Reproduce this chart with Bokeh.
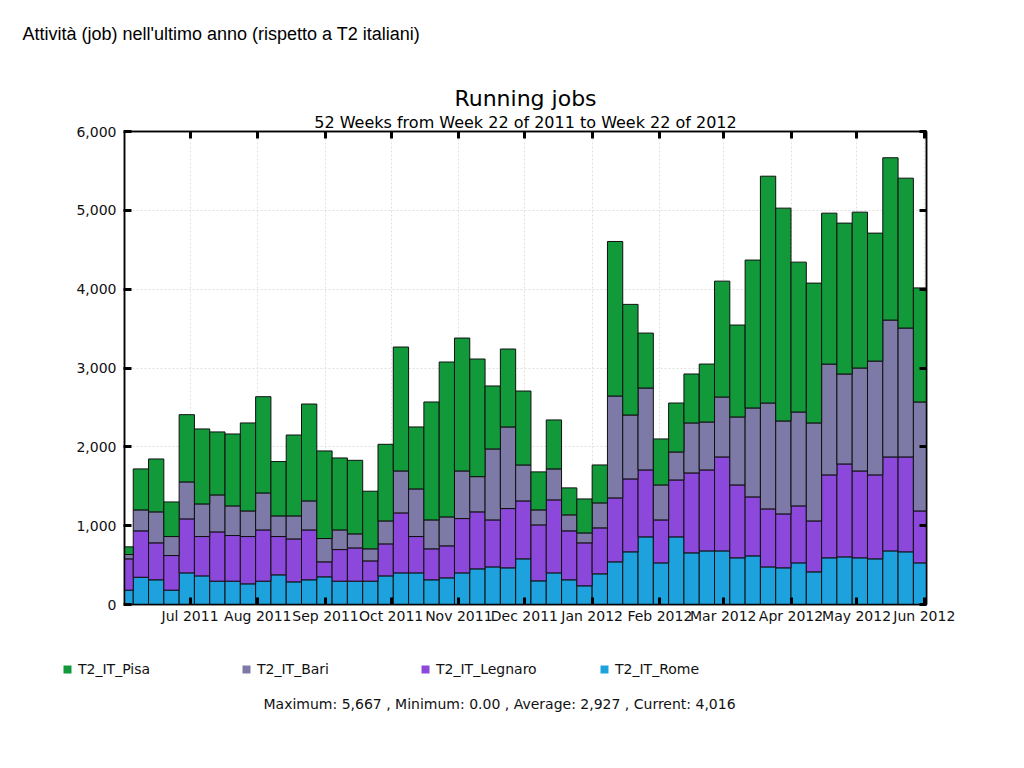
import pandas as pd
from bokeh.plotting import figure
from bokeh.layouts import column
from bokeh.models import (Range1d, FixedTicker, DatetimeTickFormatter, NumeralTickFormatter,
                          LinearAxis, DatetimeAxis, Label, Legend, LegendItem, Title,
                          ColumnDataSource, CustomJSTickFormatter)
from bokeh.embed import file_html
from bokeh.resources import INLINE

# ---------------- data ----------------
page_title = "Attività (job) nell'ultimo anno (rispetto a T2 italiani)"
chart_title = "Running jobs"
chart_subtitle = "52 Weeks from Week 22 of 2011 to Week 22 of 2012"
footer_text = "Maximum: 5,667 , Minimum: 0.00 , Average: 2,927 , Current: 4,016"

first_week_start = "2011-05-29"   # weekly bins (Sunday starts)
n_weeks = 53
x_start = "2011-06-01"
x_end = "2012-06-02"

sites = ["T2_IT_Rome", "T2_IT_Legnaro", "T2_IT_Bari", "T2_IT_Pisa"]
legend_order = ["T2_IT_Pisa", "T2_IT_Bari", "T2_IT_Legnaro", "T2_IT_Rome"]

rome = [182, 346, 313, 182, 401, 363, 296, 296, 262, 296, 376, 287, 313, 351, 296, 296, 296,
        363, 401, 401, 313, 338, 401, 452, 477, 465, 579, 300, 401, 313, 237, 389, 541, 668,
        858, 528, 858, 655, 680, 680, 592, 617, 477, 465, 528, 414, 592, 604, 592, 579, 680,
        668, 528]
legnaro = [397, 588, 469, 439, 685, 499, 625, 579, 600, 650, 486, 545, 633, 190, 401, 422, 257,
           406, 761, 461, 393, 406, 689, 723, 596, 752, 735, 710, 926, 621, 545, 583, 811, 925,
           849, 545, 722, 1014, 1027, 1192, 925, 748, 736, 684, 723, 646, 1052, 1179, 1102, 1065,
           1192, 1204, 659]
bari = [55, 266, 393, 241, 469, 414, 469, 376, 325, 469, 262, 292, 368, 296, 249, 178, 153,
        291, 532, 604, 367, 367, 604, 447, 900, 1035, 456, 190, 393, 203, 126, 317, 1293, 811,
        1039, 444, 355, 634, 608, 760, 862, 1128, 1343, 1179, 1191, 1243, 1406, 1141, 1306, 1444,
        1736, 1635, 1382]
pisa = [97, 520, 671, 439, 853, 951, 799, 912, 1116, 1221, 689, 1026, 1229, 1111, 913, 933, 731,
        972, 1572, 786, 1496, 1965, 1686, 1492, 799, 989, 938, 482, 621, 342, 431, 481, 1960, 1403,
        697, 583, 621, 621, 735, 1470, 1166, 1876, 2877, 2700, 1901, 1774, 1914, 1914, 1977, 1623,
        2059, 1901, 1447]

month_ticks = ["2011-07-01", "2011-08-01", "2011-09-01", "2011-10-01", "2011-11-01",
               "2011-12-01", "2012-01-01", "2012-02-01", "2012-03-01", "2012-04-01",
               "2012-05-01", "2012-06-01"]
y_ticks = [0, 1000, 2000, 3000, 4000, 5000, 6000]

colors = {"T2_IT_Rome": "#1da2de", "T2_IT_Legnaro": "#8c48da",
          "T2_IT_Bari": "#7e7aa7", "T2_IT_Pisa": "#12993a"}

W = 1008
BASELINE_FIX = 6   # Label baselines render a few px low; compensate

# ---------------- helpers ----------------
def ms(s):
    return pd.Timestamp(s).value // 10**6

def text_canvas(h):
    f = figure(width=W, height=h, x_range=Range1d(0, 1), y_range=Range1d(0, 1),
               x_axis_location=None, y_axis_location=None, title=None,
               output_backend="svg", toolbar_location=None, frame_align=False,
               min_border_left=0, min_border_right=0, min_border_top=0, min_border_bottom=0)
    f.grid.visible = False
    f.outline_line_color = None
    f.background_fill_color = "white"
    f.border_fill_color = "white"
    return f

def add_label(f, text, x, y, font, size, align="left", color="black", fix=BASELINE_FIX):
    f.add_layout(Label(x=x, y=y + fix, x_units="screen", y_units="screen", text=text,
                       text_font=font, text_font_size=size, text_align=align,
                       text_baseline="alphabetic", text_color=color))

# ---------------- layout sizes ----------------
FRAME_TOP = 131
TOP_BORDER = 60
HEAD_H = FRAME_TOP - TOP_BORDER
FRAME_H = 473
BOTTOM = 36

# ---------------- header ----------------
head = text_canvas(HEAD_H)
add_label(head, page_title, 22, HEAD_H - 39, "Liberation Sans", "18px")

# ---------------- chart ----------------
starts = pd.date_range(first_week_start, periods=n_weeks, freq="7D")
week_ms = 7 * 24 * 3600 * 1000
centers = starts + pd.Timedelta(days=3.5)

src = ColumnDataSource(dict(x=centers, T2_IT_Rome=rome, T2_IT_Legnaro=legnaro,
                            T2_IT_Bari=bari, T2_IT_Pisa=pisa))
month_ms = [ms(t) for t in month_ticks]

p = figure(width=W, height=TOP_BORDER + FRAME_H + BOTTOM, x_axis_type="datetime",
           x_range=Range1d(ms(x_start), ms(x_end)), y_range=Range1d(0, 6000), title=None,
           output_backend="svg", toolbar_location=None, frame_align=False,
           min_border_left=124, min_border_right=W - 926, min_border_top=TOP_BORDER,
           min_border_bottom=BOTTOM)
p.background_fill_color = "white"
p.border_fill_color = "white"
p.outline_line_color = "black"
p.outline_line_width = 1.5

p.vbar_stack(sites, x="x", width=week_ms, source=src,
             fill_color=[colors[s] for s in sites], line_color="#101010", line_width=1)

xa = p.xaxis[0]
xa.ticker = FixedTicker(ticks=month_ms)
xa.formatter = DatetimeTickFormatter(days="%b %Y", months="%b %Y", years="%b %Y",
                                     hours="%b %Y", minutes="%b %Y")
xa.major_tick_in = 7
xa.major_tick_out = 0
xa.major_tick_line_width = 3
xa.minor_tick_line_color = None
xa.axis_line_width = 1.5
xa.major_label_standoff = 3
xa.major_label_text_font = "DejaVu Sans"
xa.major_label_text_font_size = "14px"
xa.major_label_text_color = "#111111"

ya = p.yaxis[0]
ya.ticker = FixedTicker(ticks=y_ticks)
ya.formatter = NumeralTickFormatter(format="0,0")
ya.major_tick_in = 7
ya.major_tick_out = 1
ya.major_tick_line_width = 3
ya.minor_tick_line_color = None
ya.axis_line_width = 1.5
ya.major_label_standoff = 7
ya.major_label_text_font = "DejaVu Sans"
ya.major_label_text_font_size = "14px"
ya.major_label_text_color = "#111111"

blank = CustomJSTickFormatter(code="return ''")
top = DatetimeAxis(ticker=FixedTicker(ticks=month_ms), formatter=blank,
                   major_tick_in=7, major_tick_out=0, major_tick_line_width=3,
                   major_label_standoff=0, major_label_text_font_size="0px",
                   minor_tick_line_color=None, axis_line_width=1.5)
p.add_layout(top, "above")
p.add_layout(Title(text=chart_subtitle, align="center", text_font="DejaVu Sans",
                   text_font_size="16px", text_font_style="normal", text_color="black",
                   standoff=0), "above")
p.add_layout(Title(text=chart_title, align="center", text_font="DejaVu Sans",
                   text_font_size="22px", text_font_style="normal", text_color="black",
                   standoff=0), "above")
right = LinearAxis(ticker=FixedTicker(ticks=y_ticks), formatter=blank,
                   major_tick_in=7, major_tick_out=0, major_tick_line_width=3,
                   major_label_standoff=0, major_label_text_font_size="0px",
                   minor_tick_line_color=None, axis_line_width=1.5)
p.add_layout(right, "right")

p.xgrid.ticker = FixedTicker(ticks=month_ms)
p.ygrid.ticker = FixedTicker(ticks=y_ticks)
for g in (p.xgrid[0], p.ygrid[0]):
    g.grid_line_color = "#e0e0e0"
    g.grid_line_dash = "2 2"
    g.grid_line_width = 1

# ---------------- footer (legend + statistics) ----------------
FOOT_TOP = FRAME_TOP + FRAME_H + BOTTOM
FOOT_H = 752 - FOOT_TOP
foot = text_canvas(FOOT_H)
items = []
for name in legend_order:
    # swatch-only renderer (zero height, draws nothing itself)
    r = foot.vbar(x=[0.5], top=[0], bottom=[0], width=0, fill_color=colors[name],
                  line_color=None)
    items.append(LegendItem(label=name, renderers=[r]))
legend = Legend(items=items, location=(62, FOOT_H - (669 - FOOT_TOP) - 10),
                orientation="horizontal", padding=0, margin=0, spacing=0,
                glyph_width=10, glyph_height=10, label_height=20, label_width=163,
                label_standoff=6, label_text_font="DejaVu Sans", label_text_font_size="14px",
                label_text_color="#111111", border_line_alpha=0, background_fill_alpha=0)
foot.add_layout(legend)
add_label(foot, footer_text, 263, FOOT_H - (707 - FOOT_TOP), "DejaVu Sans", "14px",
          color="#111111", fix=4)

layout = column(head, p, foot, spacing=0)
open("out.html", "w").write(file_html(layout, INLINE))
